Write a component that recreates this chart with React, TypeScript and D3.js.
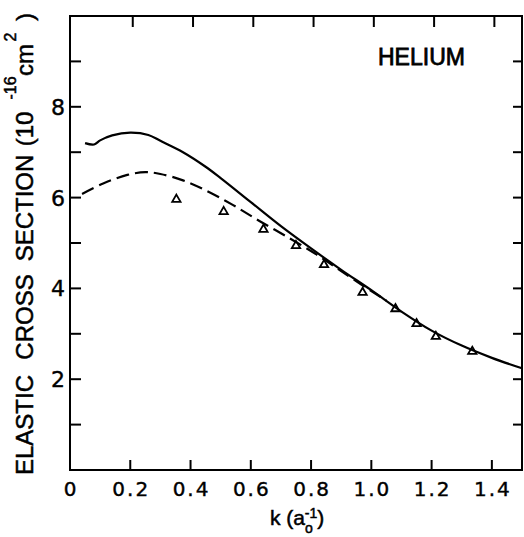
import React from 'react';
import * as d3 from 'd3';

// k (a0^-1) vs elastic cross section (10^-16 cm^2), helium
const solidK = [0.05, 0.08, 0.1, 0.14, 0.2, 0.26, 0.3, 0.375, 0.45, 0.5, 0.6, 0.7, 0.8, 0.9, 1.0, 1.1, 1.2, 1.3, 1.4, 1.5];
const solidV = [7.2, 7.17, 7.26, 7.37, 7.43, 7.38, 7.25, 7.0, 6.68, 6.43, 5.9, 5.37, 4.88, 4.41, 3.96, 3.49, 3.07, 2.74, 2.47, 2.24];

const dashK = [0.04, 0.11, 0.19, 0.25, 0.3, 0.375, 0.45, 0.54, 0.63, 0.73, 0.82, 0.9, 1.0, 1.05];
const dashV = [6.08, 6.31, 6.5, 6.56, 6.52, 6.38, 6.16, 5.84, 5.48, 5.1, 4.74, 4.38, 3.94, 3.73];

const expK = [0.353, 0.51, 0.642, 0.75, 0.843, 0.971, 1.08, 1.15, 1.214, 1.335];
const expV = [5.96, 5.69, 5.3, 4.94, 4.52, 3.91, 3.55, 3.22, 2.94, 2.61];

const xTicks = [0, 0.2, 0.4, 0.6, 0.8, 1.0, 1.2, 1.4];
const xTickLabels = ['0', '0.2', '0.4', '0.6', '0.8', '1.0', '1.2', '1.4'];
const yTicks = [1, 2, 3, 4, 5, 6, 7, 8, 9];
const yTickLabels = ['2', '4', '6', '8'];

const W = 524, H = 537;
const left = 70, right = 522, top = 16, bottom = 470;
const font = '"Liberation Sans", Arial, sans-serif';
const digitFont = '"DejaVu Sans", sans-serif';

export default function App() {
  const x = d3.scaleLinear().domain([0, 1.5]).range([left, right]);
  const y = d3.scaleLinear().domain([0, 10]).range([bottom, top]);

  const curve = d3.line<[number, number]>()
    .x(d => x(d[0]))
    .y(d => y(d[1]))
    .curve(d3.curveCatmullRom);
  const solidPath = curve(solidK.map((k, i) => [k, solidV[i]] as [number, number]));
  const dashPath = curve(dashK.map((k, i) => [k, dashV[i]] as [number, number]));

  const tri = d3.symbol().type(d3.symbolTriangle).size(30)();

  // y axis title, word by word (screen y centre of each piece)
  const yTitle: [string, number, number, number][] = [
    ['ELASTIC', 425, 24, 33],
    ['CROSS', 317, 24, 33],
    ['SECTION', 208, 24, 33],
    ['(10', 129, 24, 33],
    ['-16', 88, 16, 16],
    ['cm', 60, 24, 33],
    ['2', 37, 16, 16],
    [')', 17, 24, 33],
  ];

  return (
    <div style={{ position: 'absolute', left: 0, top: 0 }}>
      <svg width={W} height={H} style={{ display: 'block', background: '#fff' }}>
        <g stroke="#000" strokeWidth={2} fill="none">
          <rect x={left} y={top} width={right - left} height={bottom - top} />
          {xTicks.slice(1).map(t => (
            <g key={'xt' + t}>
              <line x1={x(t)} x2={x(t)} y1={bottom} y2={bottom - 10} />
              <line x1={x(t) + 2.5} x2={x(t) + 2.5} y1={top} y2={top + 11} />
            </g>
          ))}
          {yTicks.map(t => (
            <g key={'yt' + t}>
              <line x1={left} x2={left + 11} y1={y(t)} y2={y(t)} />
              <line x1={right} x2={right - 9} y1={y(t)} y2={y(t)} />
            </g>
          ))}
          <path d={solidPath || ''} strokeWidth={2.2} />
          <path d={dashPath || ''} strokeWidth={2.2} strokeDasharray="13,6" />
          {expK.map((k, i) => (
            <path key={'p' + i} d={tri || ''} transform={`translate(${x(k)},${y(expV[i])})`} strokeWidth={1.8} />
          ))}
        </g>
        <g fontFamily={digitFont} fill="#000" stroke="#000" strokeWidth={0.4}>
          {xTicks.map((t, i) => (
            <text key={'xl' + t} x={x(t)} y={496} textAnchor="middle" fontSize={20} letterSpacing={2} dx={1}>{xTickLabels[i]}</text>
          ))}
          {yTickLabels.map(l => (
            <text key={'yl' + l} x={65} y={y(+l) + 8} textAnchor="end" fontSize={22}>{l}</text>
          ))}
        </g>
        <g fontFamily={font} fill="#000" stroke="#000" strokeWidth={0.5}>
          <text x={270} y={525} fontSize={21}>
            k (a<tspan fontSize={14} dy={8}>o</tspan><tspan fontSize={14} dx={-8} dy={-15}>-1</tspan><tspan dy={7}>)</tspan>
          </text>
          <text x={378} y={65} fontSize={23} strokeWidth={0.8}>HELIUM</text>
          {yTitle.map(([s, cy, fs, bx]) => (
            <text key={s} transform={`translate(${bx},${cy}) rotate(-90)`} textAnchor="middle" fontSize={fs}>{s}</text>
          ))}
        </g>
      </svg>
    </div>
  );
}
